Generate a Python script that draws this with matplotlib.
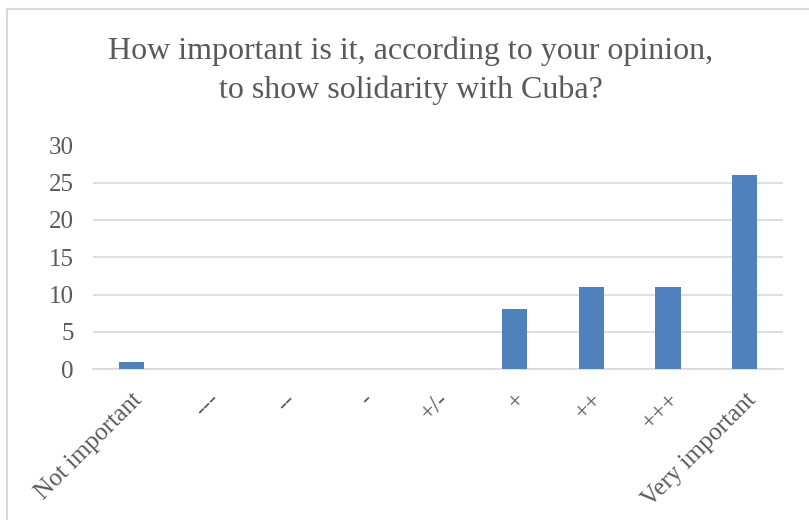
import matplotlib
matplotlib.use("Agg")
import matplotlib.pyplot as plt
from matplotlib.lines import Line2D

categories = ["Not important", "---", "--", "-", "+/-", "+", "++", "+++", "Very important"]
counts = [1, 0, 0, 0, 0, 8, 11, 11, 26]
yticks = [0, 5, 10, 15, 20, 25, 30]

W, H = 809, 520
fig = plt.figure(figsize=(W / 100, H / 100), dpi=100)
plt.rcParams["font.family"] = ["Liberation Serif", "DejaVu Serif"]
text_color = "#595959"

# chart frame (left and top edges)
fig.add_artist(Line2D([6.5 / W, 6.5 / W, 1.0], [0.0, 1 - 8.5 / H, 1 - 8.5 / H],
                      transform=fig.transFigure, color="#d9d9d9", linewidth=1.5))

ax = fig.add_axes([93 / W, 1 - 369 / H, 690 / W, 223.5 / H])
x = list(range(len(categories)))
ax.bar(x, counts, width=0.33, color="#4f81bd", zorder=3)
ax.set_xlim(-0.5, len(categories) - 0.5)
ax.set_ylim(0, 30)
ax.set_yticks(yticks)
ax.yaxis.grid(True, color="#d9d9d9", linewidth=1.2, zorder=0)
for s in ["top", "right", "left"]:
    ax.spines[s].set_visible(False)
ax.spines["bottom"].set_color("#d9d9d9")
ax.spines["bottom"].set_linewidth(1.2)
ax.tick_params(axis="both", length=0, labelsize=18, colors=text_color)
ax.tick_params(axis="y", pad=14)
ax.tick_params(axis="x", pad=14)
ax.set_xticks(x)
ax.set_xticklabels(categories, rotation=45, ha="right", rotation_mode="anchor")

fig.text(0.5 + 6 / W, 1 - 71 / H, "How important is it, according to your opinion,\nto show solidarity with Cuba?",
         ha="center", va="center", fontsize=23, color=text_color, linespacing=1.4)

fig.savefig("out.png", dpi=100)
